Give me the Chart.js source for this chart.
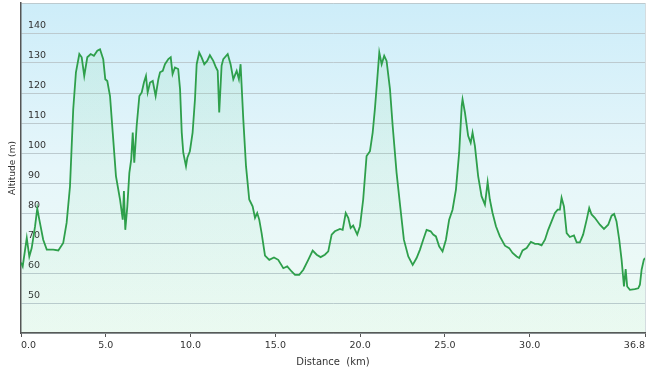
<!DOCTYPE html>
<html>
<head>
<meta charset="utf-8">
<script src="https://cdn.jsdelivr.net/npm/chart.js@4/dist/chart.umd.min.js"></script>
<style>
html,body{margin:0;padding:0;background:#ffffff;}
#wrap{width:650px;height:374px;}
</style>
</head>
<body>
<div id="wrap"><canvas id="c" width="650" height="374"></canvas></div>
<script>
// ---- data ----
const distanceKm = [
  0.00,0.10,0.34,0.49,0.63,0.83,0.96,1.08,1.31,1.52,1.90,2.20,2.49,2.69,2.89,3.08,3.24,3.44,3.58,3.73,
  3.91,4.11,4.30,4.50,4.66,4.85,4.97,5.09,5.25,5.41,5.60,5.84,6.00,6.07,6.15,6.27,6.39,6.50,6.59,6.68,
  6.82,6.98,7.12,7.25,7.37,7.47,7.61,7.77,7.94,8.10,8.20,8.36,8.49,8.69,8.83,8.94,9.08,9.27,9.38,9.48,
  9.57,9.73,9.81,9.96,10.12,10.26,10.36,10.51,10.65,10.81,10.98,11.14,11.34,11.50,11.60,11.69,11.83,11.93,12.19,12.36,
  12.52,12.72,12.85,12.95,13.11,13.27,13.46,13.66,13.80,13.93,14.05,14.19,14.39,14.64,14.92,15.17,15.47,15.70,15.96,16.16,
  16.41,16.65,16.94,17.20,17.44,17.67,17.92,18.12,18.32,18.51,18.81,18.97,19.15,19.30,19.44,19.59,19.83,19.99,20.18,20.38,
  20.58,20.74,20.87,21.01,21.13,21.27,21.42,21.56,21.76,21.92,22.15,22.35,22.58,22.84,23.10,23.33,23.53,23.72,23.92,24.16,
  24.31,24.47,24.66,24.86,25.06,25.25,25.45,25.65,25.84,25.99,26.04,26.18,26.37,26.52,26.63,26.77,26.96,27.16,27.36,27.52,
  27.65,27.81,28.01,28.24,28.54,28.79,28.99,29.23,29.38,29.58,29.82,30.07,30.31,30.50,30.70,30.90,31.09,31.29,31.49,31.65,
  31.78,31.88,32.02,32.18,32.37,32.61,32.77,32.96,33.15,33.36,33.51,33.65,33.84,34.14,34.38,34.63,34.83,34.98,35.12,35.28,
  35.42,35.56,35.66,35.75,35.91,36.20,36.40,36.50,36.60,36.73,36.80
];
const altitudeM = [
  63.5,62.2,71.7,65.5,68.3,75.6,81.5,77.8,71.1,67.8,67.8,67.5,70.0,76.7,88.9,114.6,126.9,133.0,131.9,125.7,
  131.9,133.0,132.4,134.1,134.6,131.3,124.6,124.0,119.0,106.8,92.3,84.5,77.8,87.3,74.4,82.2,93.4,97.9,106.8,96.8,
  109.0,119.0,120.2,123.5,125.7,120.2,123.5,124.0,119.0,124.6,126.9,127.4,129.6,131.3,131.9,126.3,128.5,128.0,121.3,106.8,
  100.1,95.6,98.4,100.6,106.8,117.9,129.6,133.5,131.9,129.6,130.7,132.6,130.7,128.5,127.4,113.5,129.1,131.3,133.0,129.6,
  124.6,127.4,124.6,129.6,111.2,95.6,84.5,82.2,78.4,80.0,77.8,73.3,65.8,64.4,65.2,64.4,61.6,62.2,60.5,59.4,
  59.4,61.1,64.4,67.5,66.1,65.3,66.1,67.2,72.8,73.9,74.7,74.4,80.0,78.4,75.0,75.8,72.8,75.6,84.5,99.0,
  100.6,106.8,114.6,124.6,133.5,129.6,132.4,130.7,121.3,109.0,93.4,82.9,71.1,65.5,62.7,65.0,67.8,71.1,74.4,73.9,
  72.8,72.2,68.9,67.2,71.1,77.8,81.1,87.8,100.1,115.7,117.9,113.5,105.7,103.4,106.8,102.3,92.3,85.6,82.8,90.3,
  84.5,80.0,75.6,72.2,69.1,68.3,66.7,65.5,65.0,67.5,68.3,70.4,69.7,69.7,69.2,71.1,74.4,77.2,80.0,81.1,
  81.1,85.1,82.2,73.3,72.0,72.5,70.2,70.2,72.8,77.8,81.7,79.5,78.4,76.1,74.7,76.1,79.1,79.7,77.2,71.1,
  64.4,55.5,61.3,55.5,54.4,54.6,54.9,56.1,61.1,64.4,65.0
];
const xTickValues = [0, 5, 10, 15, 20, 25, 30, 36.8];
const yTickValues = [50, 60, 70, 80, 90, 100, 110, 120, 130, 140];
const yMin = 40, yMax = 150;
const xTitle = 'Distance  (km)';
const yTitle = 'Altitude (m)';

const points = distanceKm.map((d, i) => ({x: d, y: altitudeM[i]}));

const bgPlugin = {
  id: 'plotBg',
  beforeDraw(chart) {
    const {ctx, chartArea: a} = chart;
    if (!a) return;
    const g = ctx.createLinearGradient(0, a.top, 0, a.bottom);
    g.addColorStop(0, '#cdedf9');
    g.addColorStop(0.5, '#e6f6fa');
    g.addColorStop(1, '#effbf4');
    ctx.save();
    ctx.fillStyle = g;
    ctx.fillRect(a.left, a.top, a.right - a.left, a.bottom - a.top);
    ctx.strokeStyle = '#d4dcdf';
    ctx.lineWidth = 1;
    ctx.beginPath();
    ctx.moveTo(a.right + 0.5, a.top);
    ctx.lineTo(a.right + 0.5, a.bottom);
    ctx.stroke();
    ctx.restore();
  }
};

const fillGrad = (context) => {
  const {ctx, chartArea: a} = context.chart;
  if (!a) return 'rgba(120,210,150,0.1)';
  const g = ctx.createLinearGradient(0, a.top, 0, a.bottom);
  g.addColorStop(0, 'rgba(120,215,150,0.16)');
  g.addColorStop(1, 'rgba(120,215,150,0.04)');
  return g;
};

const tickFont = {family: '"DejaVu Sans", Verdana, sans-serif', size: 9.5};

new Chart(document.getElementById('c'), {
  type: 'line',
  data: {
    datasets: [{
      data: points,
      borderColor: '#2e9f4b',
      borderWidth: 1.8,
      backgroundColor: fillGrad,
      fill: 'start',
      pointRadius: 0,
      tension: 0
    }]
  },
  options: {
    responsive: false,
    animation: false,
    devicePixelRatio: 1,
    layout: {padding: {top: 3, right: 5, left: 0, bottom: 0}},
    plugins: {legend: {display: false}, tooltip: {enabled: false}},
    scales: {
      x: {
        type: 'linear',
        min: 0,
        max: 36.8,
        afterBuildTicks: (s) => { s.ticks = xTickValues.map(v => ({value: v})); },
        afterFit: (s) => { s.height = 41; s.paddingLeft = 0; s.paddingRight = 0; },
        ticks: {
          autoSkip: false,
          maxRotation: 0,
          align: 'inner',
          padding: 3,
          color: '#333',
          font: tickFont,
          callback: (v) => Number(v).toFixed(1)
        },
        grid: {drawOnChartArea: false, drawTicks: true, tickLength: 4, tickColor: '#555', tickWidth: 1},
        border: {display: true, color: '#555', width: 1.5},
        title: {display: true, text: xTitle, color: '#333',
                font: {family: '"DejaVu Sans", Verdana, sans-serif', size: 10},
                padding: {top: 0, bottom: 6}}
      },
      y: {
        type: 'linear',
        min: yMin,
        max: yMax,
        afterBuildTicks: (s) => { s.ticks = [yMin, ...yTickValues, yMax].map(v => ({value: v})); },
        afterFit: (s) => { s.width = 21; s.paddingTop = 0; s.paddingBottom = 0; },
        ticks: {
          mirror: true,
          padding: 7,
          labelOffset: -7,
          color: '#333',
          font: tickFont,
          callback: (v) => yTickValues.includes(v) ? String(v) : ''
        },
        grid: {drawTicks: false, color: '#bccacf', lineWidth: 1},
        border: {display: true, color: '#555', width: 1.5},
        title: {display: true, text: yTitle, color: '#333',
                font: {family: '"DejaVu Sans", Verdana, sans-serif', size: 9},
                padding: {top: 7, bottom: 0}}
      }
    }
  },
  plugins: [bgPlugin]
});
</script>
</body>
</html>
